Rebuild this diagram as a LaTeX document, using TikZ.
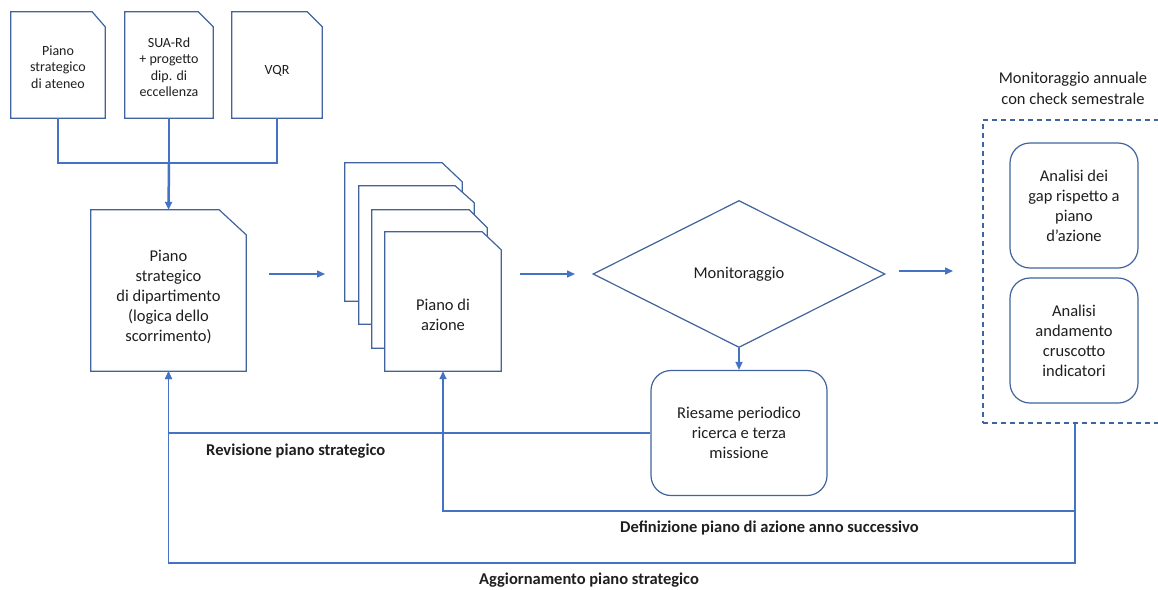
\documentclass[tikz,border=0pt]{standalone}
\usepackage{fontspec}
\setmainfont{Carlito}
\usetikzlibrary{arrows.meta,shapes.geometric,backgrounds}
\definecolor{lc}{HTML}{4472C4}
\definecolor{bc}{HTML}{41649E}
\definecolor{tc}{HTML}{1F1F1F}
\newcommand\docoutline[3]{\draw[docline, fill=white] (#1.south west) -- (#1.north west) -- ([xshift=-#2pt]#1.north east) -- ([yshift=-#3pt]#1.north east) -- (#1.south east) -- cycle;}
\begin{document}
\begin{tikzpicture}[x=1pt,y=-1pt,
  docline/.style={draw=bc, line width=1.2pt, line join=miter},
  docnode/.style={inner sep=0pt, align=center, text=tc, font=\fontsize{16.5}{20}\selectfont},
  smalldoc/.style={docnode, font=\fontsize{14}{16.5}\selectfont, minimum height=106pt},
  rbox/.style={draw=bc, line width=1.2pt, rounded corners=20pt, align=center, text=tc, font=\fontsize{16.5}{20}\selectfont, inner sep=0pt},
  conn/.style={draw=lc, line width=1.5pt},
  arr/.style={conn, -{Triangle[length=8pt,width=7pt]}},
  lbl/.style={font=\bfseries\fontsize{16.5}{19}\selectfont, text=tc, inner sep=0pt, anchor=west},
]
\useasboundingbox (0,0) rectangle (1158,589);

% documents on top
\node[smalldoc, minimum width=94pt] (d1) at (58,65) {\rule{0pt}{14pt}Piano\\strategico\\di ateneo};
\node[smalldoc, minimum width=88pt] (d2) at (169,65) {\rule{0pt}{14pt}SUA-Rd\\+ progetto\\dip. di\\eccellenza};
\node[smalldoc, minimum width=90pt] (d3) at (277,65) {\rule{0pt}{20pt}VQR};

% main document
\node[docnode, minimum width=155pt, minimum height=161pt] (main) at (168.5,290.5) {\rule{0pt}{25pt}Piano\\strategico\\di dipartimento\\(logica dello\\scorrimento)};

% stacked documents
\node[docnode, minimum width=117pt, minimum height=138pt] (s1) at (403.5,232) {};
\node[docnode, minimum width=115pt, minimum height=138pt] (s2) at (416.5,255) {};
\node[docnode, minimum width=115pt, minimum height=138pt] (s3) at (429.5,279) {};
\node[docnode, minimum width=116pt, minimum height=139pt] (front) at (443,301.5) {\rule{0pt}{38pt}Piano di\\azione};

% diamond
\node[diamond, draw=bc, line width=1.2pt, minimum width=292pt, minimum height=147pt, inner sep=0pt, align=center, text=tc, font=\fontsize{16.5}{20}\selectfont] (mon) at (739,274) {Monitoraggio};

% riesame
\node[rbox, minimum width=176pt, minimum height=125pt] (ries) at (739,433) {Riesame periodico\\ricerca e terza\\missione};

% right group
\node[docnode, font=\fontsize{16.5}{21}\selectfont] (title) at (1073,88) {Monitoraggio annuale\\con check semestrale};
\node[draw=bc, line width=1.2pt, dash pattern=on 5pt off 4pt, minimum width=184pt, minimum height=303pt, inner sep=0pt] (dbox) at (1075,271.5) {};
\node[rbox, minimum width=128pt, minimum height=125pt] (gap) at (1074,205.5) {Analisi dei\\gap rispetto a\\piano\\d’azione};
\node[rbox, minimum width=128pt, minimum height=125pt] (cru) at (1074,340.5) {Analisi\\andamento\\cruscotto\\indicatori};

% connectors
\coordinate (j) at (169,163);
\draw[conn] (d1.south) |- (j) -| (d3.south);
\draw[conn] (d2.south) -- (j);
\draw[arr, line width=2.5pt] (j) -- (main.north);

\coordinate (a1s) at (269,274);
\coordinate (a1e) at (325,274);
\draw[arr] (a1s) -- (a1e);
\coordinate (a2s) at (520,274);
\coordinate (a2e) at (575,274);
\draw[arr] (a2s) -- (a2e);
\coordinate (a3s) at (899,271);
\coordinate (a3e) at (953,271);
\draw[arr] (a3s) -- (a3e);

\draw[arr] (mon.south) -- (ries.north);
\draw[arr] (ries.west) -| (main.south);
\draw[arr] (dbox.south) |- ([yshift=-140pt]front.south) -- (front.south);
\draw[arr] (dbox.south) |- ([yshift=-192pt]main.south) -- (main.south);

% labels
\node[lbl] (l1) at (206,451) {Revisione piano strategico};
\node[lbl] (l2) at (620,528) {Definizione piano di azione anno successivo};
\node[lbl] (l3) at (479,580) {Aggiornamento piano strategico};

% document outlines (background)
\begin{scope}[on background layer]
\fill[white] (0,0) rectangle (1158,589);
\docoutline{d1}{13}{15}
\docoutline{d2}{15}{15}
\docoutline{d3}{15}{15}
\docoutline{main}{27}{25}
\docoutline{s1}{20}{19}
\docoutline{s2}{19}{17}
\docoutline{s3}{18}{18}
\docoutline{front}{19}{18}
\end{scope}
\end{tikzpicture}
\end{document}
